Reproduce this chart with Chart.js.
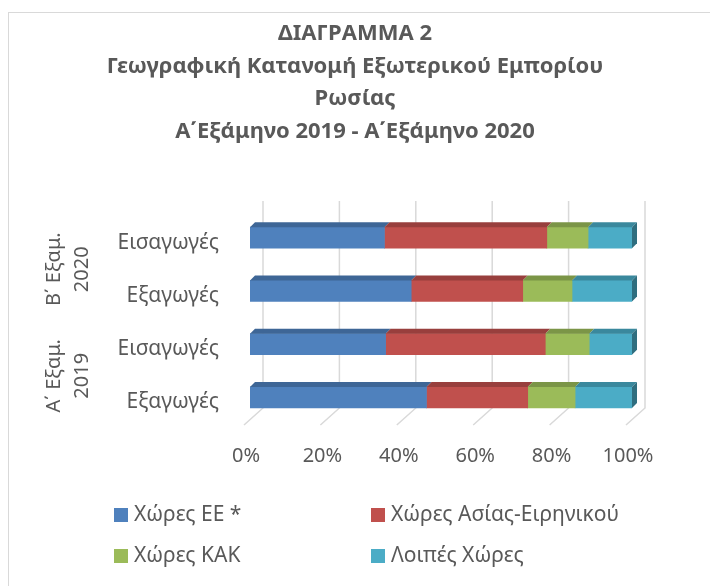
<!DOCTYPE html>
<html>
<head>
<meta charset="utf-8">
<script src="https://cdn.jsdelivr.net/npm/chart.js@4"></script>
<style>
  body { margin: 0; background: #fff; }
  #frame { position: absolute; left: 8px; top: 12px; width: 760px; height: 640px; border: 1.5px solid #d9d9d9; }
  #wrap { position: absolute; left: 0; top: 0; width: 710px; height: 586px; }
</style>
</head>
<body>
<div id="frame"></div>
<div id="wrap"><canvas id="chart" width="710" height="586"></canvas></div>
<script>
// chart data
var titleLines = [
  "ΔΙΑΓΡΑΜΜΑ 2",
  "Γεωγραφική Κατανομή Εξωτερικού Εμπορίου",
  "Ρωσίας",
  "Α΄Εξάμηνο 2019 - Α΄Εξάμηνο 2020"
];
var categories = ["Εισαγωγές", "Εξαγωγές", "Εισαγωγές", "Εξαγωγές"];
var groupLabels = [["Β΄ Εξαμ.", "2020"], ["Α΄ Εξαμ.", "2019"]];
var groupSize = 2;
var seriesNames = ["Χώρες ΕΕ *", "Χώρες Ασίας-Ειρηνικού", "Χώρες ΚΑΚ", "Λοιπές Χώρες"];
var euValues = [35.2, 42.2, 35.5, 46.2];
var asiaValues = [42.5, 29.2, 41.8, 26.5];
var cisValues = [10.8, 12.9, 11.5, 12.4];
var otherValues = [11.5, 15.7, 11.2, 14.9];
var xTicks = [0, 20, 40, 60, 80, 100];

var colors = ["#4F81BD", "#C0504D", "#9BBB59", "#4BACC6"];
var topColors = ["#3E6696", "#983F3D", "#7B9547", "#3A889D"];
var sideColor = "#2F6E7F";
var textColor = "#595959";
var fontName = "'Noto Sans', sans-serif";

var seriesValues = [euValues, asiaValues, cisValues, otherValues];
var datasets = seriesNames.map(function (name, i) {
  return {
    label: name,
    data: seriesValues[i],
    backgroundColor: colors[i],
    barThickness: 21,
    borderWidth: 0
  };
});

// title drawn by hand so it is centred on the whole page
var titleBlock = {
  id: "titleBlock",
  afterDraw: function (chart) {
    var ctx = chart.ctx;
    ctx.save();
    ctx.fillStyle = textColor;
    ctx.font = "bold 22px " + fontName;
    ctx.textAlign = "center";
    ctx.textBaseline = "middle";
    titleLines.forEach(function (line, i) {
      ctx.fillText(line, chart.width / 2, 34 + i * 32.5);
    });
    ctx.restore();
  }
};

// back wall gridlines with a little perspective
var grid3d = {
  id: "grid3d",
  beforeDatasetsDraw: function (chart) {
    var ctx = chart.ctx, x = chart.scales.x, area = chart.chartArea;
    ctx.save();
    ctx.strokeStyle = "#d9d9d9";
    ctx.lineWidth = 1.5;
    xTicks.forEach(function (v) {
      var px = x.getPixelForValue(v);
      ctx.beginPath();
      ctx.moveTo(px + 13, area.top - 10);
      ctx.lineTo(px + 13, area.bottom - 16);
      ctx.lineTo(px - 6, area.bottom + 1);
      ctx.stroke();
    });
    ctx.restore();
  }
};

// top and side faces of the bars
var bars3d = {
  id: "bars3d",
  afterDatasetsDraw: function (chart) {
    var ctx = chart.ctx, d = 5;
    ctx.save();
    chart.data.datasets.forEach(function (ds, i) {
      var meta = chart.getDatasetMeta(i);
      meta.data.forEach(function (bar) {
        var top = bar.y - bar.height / 2, bottom = bar.y + bar.height / 2;
        ctx.fillStyle = topColors[i];
        ctx.beginPath();
        ctx.moveTo(bar.base, top);
        ctx.lineTo(bar.x, top);
        ctx.lineTo(bar.x + d, top - d);
        ctx.lineTo(bar.base + d, top - d);
        ctx.closePath();
        ctx.fill();
        if (i === chart.data.datasets.length - 1) {
          ctx.fillStyle = sideColor;
          ctx.beginPath();
          ctx.moveTo(bar.x, top);
          ctx.lineTo(bar.x + d, top - d);
          ctx.lineTo(bar.x + d, bottom - d);
          ctx.lineTo(bar.x, bottom);
          ctx.closePath();
          ctx.fill();
        }
      });
    });
    ctx.restore();
  }
};

// second level of the category axis (rotated group names)
var groupAxis = {
  id: "groupAxis",
  afterDraw: function (chart) {
    var ctx = chart.ctx, y = chart.scales.y;
    ctx.save();
    ctx.fillStyle = textColor;
    ctx.font = "20px " + fontName;
    ctx.textAlign = "center";
    ctx.textBaseline = "middle";
    groupLabels.forEach(function (lines, g) {
      var y1 = y.getPixelForValue(g * groupSize);
      var y2 = y.getPixelForValue(g * groupSize + groupSize - 1);
      var mid = (y1 + y2) / 2 + 5;
      lines.forEach(function (txt, k) {
        ctx.save();
        ctx.translate(54 + k * 28, mid);
        ctx.rotate(-Math.PI / 2);
        ctx.fillText(txt, 0, 0);
        ctx.restore();
      });
    });
    ctx.restore();
  }
};

// legend in two columns
var legend2col = {
  id: "legend2col",
  afterDraw: function (chart) {
    var ctx = chart.ctx;
    var colX = [114, 371], rowY = [515, 556];
    ctx.save();
    ctx.font = "21px " + fontName;
    ctx.textBaseline = "middle";
    chart.data.datasets.forEach(function (ds, i) {
      var cx = colX[i % 2], cy = rowY[Math.floor(i / 2)];
      ctx.fillStyle = ds.backgroundColor;
      ctx.fillRect(cx, cy - 7, 14, 14);
      ctx.fillStyle = textColor;
      ctx.fillText(ds.label, cx + 20, cy);
    });
    ctx.restore();
  }
};

var ctx = document.getElementById("chart").getContext("2d");
var myChart = new Chart(ctx, {
  type: "bar",
  data: { labels: categories, datasets: datasets },
  plugins: [grid3d, bars3d, groupAxis, legend2col, titleBlock],
  options: {
    indexAxis: "y",
    responsive: false,
    animation: false,
    layout: { padding: { left: 10, right: 78, top: 211, bottom: 117 } },
    plugins: {
      legend: { display: false },
      tooltip: { enabled: false },
      title: { display: false }
    },
    scales: {
      x: {
        stacked: true,
        min: 0,
        max: 100,
        afterBuildTicks: function (scale) {
          scale.ticks = xTicks.map(function (v) { return { value: v }; });
        },
        afterFit: function (scale) { scale.height = 45; },
        grid: { display: false },
        border: { display: false },
        ticks: {
          color: textColor,
          font: { family: fontName, size: 20 },
          padding: 12,
          labelOffset: -4,
          callback: function (v) { return v + "%"; }
        }
      },
      y: {
        stacked: true,
        afterFit: function (scale) { scale.width = 240; },
        grid: { display: false },
        border: { display: false },
        ticks: {
          color: textColor,
          font: { family: fontName, size: 21 },
          padding: 23,
          labelOffset: 5
        }
      }
    }
  }
});
</script>
</body>
</html>
